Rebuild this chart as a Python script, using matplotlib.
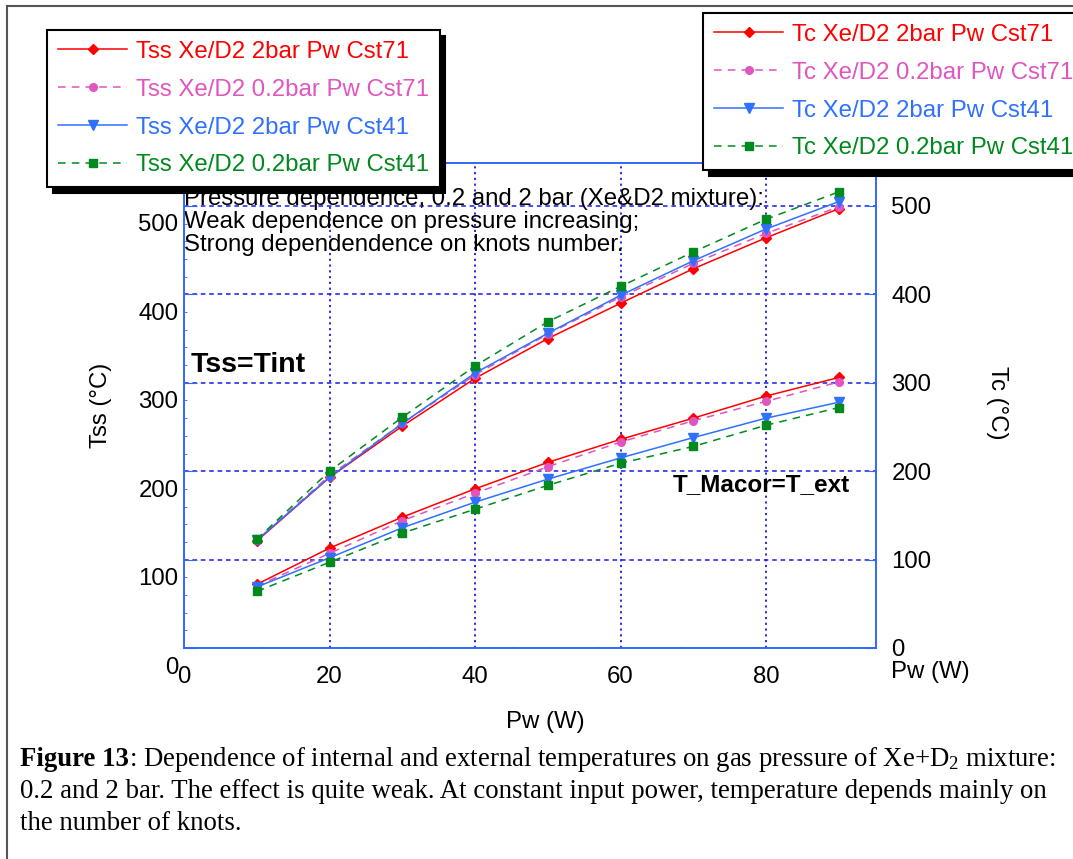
import matplotlib
matplotlib.use('Agg')
from matplotlib import pyplot as plt
from matplotlib.lines import Line2D
from matplotlib.text import Annotation
from matplotlib.transforms import ScaledTranslation
from matplotlib.ticker import MultipleLocator

plt.rcParams['font.family'] = ['Liberation Sans', 'DejaVu Sans']

pw = [10, 20, 30, 40, 50, 60, 70, 80, 90]

# internal temperature Tss (left axis)
tss_2bar_71 = [121, 193, 251, 305, 350, 390, 429, 464, 497]
tss_02bar_71 = [122, 195, 254, 309, 355, 397, 435, 469, 499]
tss_2bar_41 = [122, 193, 254, 311, 356, 399, 438, 474, 505]
tss_02bar_41 = [123, 200, 261, 319, 369, 409, 448, 485, 516]

# external temperature Tc (right axis)
tc_2bar_71 = [72, 113, 148, 180, 210, 236, 260, 285, 306]
tc_02bar_71 = [70, 107, 144, 175, 205, 233, 257, 279, 301]
tc_2bar_41 = [69, 102, 136, 165, 191, 215, 238, 260, 278]
tc_02bar_41 = [64, 97, 130, 157, 184, 209, 228, 252, 272]

names = ['Xe/D2 2bar Pw Cst71', 'Xe/D2 0.2bar Pw Cst71',
         'Xe/D2 2bar Pw Cst41', 'Xe/D2 0.2bar Pw Cst41']
colors = ['#ff0000', '#e055c0', '#3070ff', '#008a1e']
styles = ['-', (0, (5, 4)), '-', (0, (5, 4))]
markers = ['D', 'o', 'v', 's']
msizes = [5, 5.5, 7, 6]

W, H = 1073, 859
fs = 17.3
fig = plt.figure(figsize=(W / 100, H / 100), dpi=100)
ax = fig.add_axes([184 / W, 1 - 648 / H, 692 / W, 485 / H])
ax2 = ax.twinx()

lines_tss = []
for ys, n, c, ls, m, ms in zip([tss_2bar_71, tss_02bar_71, tss_2bar_41, tss_02bar_41],
                               names, colors, styles, markers, msizes):
    l, = ax.plot(pw, ys, color=c, ls=ls, lw=1.1, marker=m, ms=ms, label='Tss ' + n)
    lines_tss.append(l)
lines_tc = []
for ys, n, c, ls, m, ms in zip([tc_2bar_71, tc_02bar_71, tc_2bar_41, tc_02bar_41],
                               names, colors, styles, markers, msizes):
    l, = ax2.plot(pw, ys, color=c, ls=ls, lw=1.1, marker=m, ms=ms, label='Tc ' + n)
    lines_tc.append(l)

ymax = 548.6
ax.set_xlim(0, 95.1)
ax.set_ylim(0, ymax)
ax2.set_ylim(0, ymax)
ax.set_xticks([0, 20, 40, 60, 80])
ax.set_yticks([0, 100, 200, 300, 400, 500])
ax.yaxis.set_minor_locator(MultipleLocator(20))
ax2.set_yticks([0, 100, 200, 300, 400, 500])

spine_c = '#3366ff'
grid_c = '#1a1ae6'
for a in (ax, ax2):
    for s in a.spines.values():
        s.set_color(spine_c)
        s.set_linewidth(1.2)
ax.xaxis.grid(True, color=grid_c, ls=(0, (1.2, 2)), lw=1.3)
ax.yaxis.grid(True, color=grid_c, ls=(0, (3, 2.5)), lw=1.1)
ax.tick_params(axis='x', length=0, pad=13, labelsize=fs)
ax.tick_params(axis='y', which='major', direction='in', length=9, color=spine_c,
               pad=4, labelsize=fs)
ax.tick_params(axis='y', which='minor', direction='in', length=2, color=spine_c)
ax2.tick_params(axis='y', direction='in', length=8, color=spine_c, pad=11, labelsize=fs)

# left tick labels sit lower than their ticks in the original
off = ScaledTranslation(0, -17 / 100, fig.dpi_scale_trans)
for lab in ax.get_yticklabels():
    lab.set_transform(lab.get_transform() + off)

ax.set_xlabel('Pw (W)', fontsize=fs)
ax.xaxis.set_label_coords(0.522, -0.13)
ax.set_ylabel('Tss (°C)', fontsize=fs)
ax.yaxis.set_label_coords(-0.104, 0.5)
ax2.set_ylabel('Tc (°C)', fontsize=fs, rotation=270, va='center', ha='center',
               rotation_mode='anchor')
ax2.yaxis.set_label_coords(1.175, 0.505)
ax.annotate('Pw (W)', xy=(1.022, -0.05), xycoords='axes fraction',
            fontsize=fs, ha='left', va='center', annotation_clip=False)

ax.text(0.0, 0.878, 'Pressure dependence, 0.2 and 2 bar (Xe&D2 mixture):\n'
        'Weak dependence on pressure increasing;\n'
        'Strong dependendence on knots number.',
        transform=ax.transAxes, fontsize=fs, ha='left', va='center', linespacing=1.04)
ax.text(0.009, 0.583, 'Tss=Tint', transform=ax.transAxes, fontsize=20.5,
        fontweight='bold', ha='left', va='center')
ax.text(0.962, 0.336, 'T_Macor=T_ext', transform=ax.transAxes, fontsize=17.5,
        fontweight='bold', ha='right', va='center')

leg_kw = dict(fontsize=fs, labelcolor='linecolor', frameon=True, fancybox=False,
              edgecolor='black', framealpha=1, borderaxespad=0, handlelength=2.9,
              handletextpad=0.35, labelspacing=0.66, borderpad=0.45,
              shadow={'color': 'black', 'alpha': 1, 'ox': 4, 'oy': -4})
leg1 = fig.legend(handles=lines_tss, loc='upper left',
                  bbox_to_anchor=(47 / W, 1 - 30 / H), **leg_kw)
leg1.get_frame().set_linewidth(1.5)
leg2 = fig.legend(handles=lines_tc, loc='upper left',
                  bbox_to_anchor=(703 / W, 1 - 13 / H), **leg_kw)
leg2.get_frame().set_linewidth(1.5)

# outer page border (left and top only visible)
fig.add_artist(Line2D([7 / W, 7 / W], [0, 1 - 6 / H], transform=fig.transFigure,
                      color='#555555', lw=1.5))
fig.add_artist(Line2D([7 / W, 1], [1 - 6 / H, 1 - 6 / H], transform=fig.transFigure,
                      color='#555555', lw=1.5))

# caption
cap_kw = dict(fontsize=19.3, family=['Liberation Serif', 'DejaVu Serif'], va='center')
t1 = fig.text(20 / W, 1 - 760 / H, 'Figure 13', fontweight='bold', **cap_kw)
fig.add_artist(Annotation(': Dependence of internal and external temperatures on gas '
                          'pressure of Xe+$\\mathregular{D_2}$ mixture:',
                          xy=(1, 0.5), xycoords=t1, ha='left', **cap_kw))
fig.text(20 / W, 1 - 792 / H, '0.2 and 2 bar. The effect is quite weak. At constant input '
         'power, temperature depends mainly on', **cap_kw)
fig.text(20 / W, 1 - 824 / H, 'the number of knots.', **cap_kw)

fig.savefig('out.png', dpi=100)
